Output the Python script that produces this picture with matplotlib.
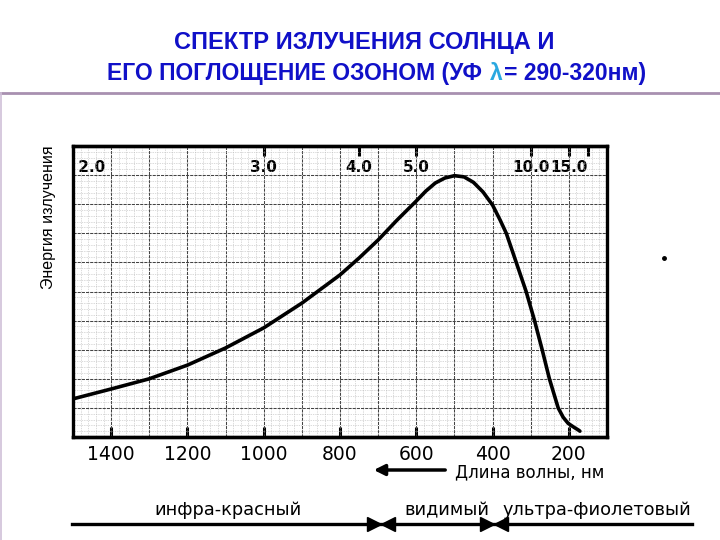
import matplotlib
matplotlib.use("Agg")
import matplotlib.pyplot as plt
from matplotlib.ticker import MultipleLocator

# длина волны, нм и относительная энергия излучения
wavelength = [1500, 1400, 1300, 1200, 1100, 1000, 900, 800, 750, 700, 650,
              600, 575, 550, 525, 500, 475, 450, 425, 400, 380, 364, 338,
              312, 290, 270, 251, 228, 215, 202, 185, 175, 171]
energy = [1.31, 1.65, 2.0, 2.47, 3.06, 3.75, 4.6, 5.57, 6.15, 6.77, 7.46,
          8.11, 8.45, 8.73, 8.9, 8.98, 8.94, 8.75, 8.42, 7.97, 7.45, 7.0, 6.0,
          5.0, 4.0, 3.0, 2.0, 1.0, 0.68, 0.47, 0.32, 0.24, 0.2]

bottom_ticks = [1400, 1200, 1000, 800, 600, 400, 200]
top_ticks = [2, 3, 4, 5, 10, 15, 20]
top_labels = [' 2.0', '3.0', '4.0', '5.0', '10.0', '15.0', '']

blue = '#1010c8'
cyan = '#2aa8e0'

fig = plt.figure(figsize=(7.2, 5.4), dpi=100)

# оверлей в пикселях для заголовка и подписей
ov = fig.add_axes([0, 0, 1, 1])
ov.set_xlim(0, 720)
ov.set_ylim(540, 0)
ov.axis('off')

ax = fig.add_axes([73 / 720, 1 - 437 / 540, 534 / 720, 291 / 540])
ax.plot(wavelength, energy, color='black', lw=2.6, solid_capstyle='round')
ax.set_xlim(1500, 100)
ax.set_ylim(0, 10)

ax.xaxis.set_major_locator(MultipleLocator(100))
ax.xaxis.set_minor_locator(MultipleLocator(20))
ax.yaxis.set_major_locator(MultipleLocator(1))
ax.yaxis.set_minor_locator(MultipleLocator(0.2))
ax.grid(which='major', color='#444444', lw=0.75, ls=(0, (3, 1)))
ax.grid(which='minor', color='#b5b5b5', lw=0.5, ls=(0, (1, 1.5)))
ax.set_axisbelow(True)
ax.tick_params(which='both', left=False, labelleft=False, bottom=False,
               labelbottom=False)
for s in ax.spines.values():
    s.set_linewidth(2.4)

# нижняя шкала (длина волны), метки через 200
bot = ax.secondary_xaxis('bottom')
bot.set_xticks(bottom_ticks)
bot.set_xticklabels([str(t) for t in bottom_ticks])
bot.tick_params(direction='in', length=7, width=2.2, pad=6, labelsize=13.5)
bot.spines['bottom'].set_linewidth(2.4)

# верхняя шкала (частота, 3000/λ)
top = ax.secondary_xaxis('top', functions=(lambda x: 3000 / x, lambda f: 3000 / f))
top.set_xticks(top_ticks)
top.set_xticklabels(top_labels)
top.tick_params(direction='in', length=7, width=2.2, pad=-21, labelsize=11)
for lab in top.get_xticklabels():
    lab.set_fontweight('bold')
top.get_xticklabels()[0].set_ha('left')
top.spines['top'].set_linewidth(2.4)

ax.set_ylabel('Энергия излучения', family='Liberation Sans', fontsize=11.5)
ax.yaxis.set_label_coords(-0.032, 0.755)

# заголовок
tf = dict(family='Liberation Sans', fontweight='bold')
ov.text(364, 42, 'СПЕКТР ИЗЛУЧЕНИЯ СОЛНЦА И', color=blue, ha='center',
        va='center', fontsize=17, **tf)
t1 = ov.text(107, 80, 'ЕГО ПОГЛОЩЕНИЕ ОЗОНОМ (УФ', color=blue, ha='left',
             va='baseline', fontsize=16.5, **tf)
r = fig.canvas.get_renderer()
inv = ov.transData.inverted()
x1 = inv.transform(t1.get_window_extent(r))[1][0] + 8
t2 = ov.text(x1, 80, 'λ', color=cyan, ha='left', va='baseline', fontsize=16.5, **tf)
x2 = inv.transform(t2.get_window_extent(r))[1][0] + 1
ov.text(x2, 80, '= 290-320нм)', color=blue, ha='left', va='baseline',
        fontsize=16.5, **tf)

ov.plot([0, 720], [93, 93], color='#a890b0', lw=2)
ov.plot([1, 1], [93, 540], color='#d0c0d8', lw=1.2)

# стрелка "Длина волны"
ov.annotate('', xy=(371, 470), xytext=(448, 470),
            arrowprops=dict(arrowstyle='-|>', lw=2.5, color='black',
                            mutation_scale=16))
ov.text(455, 472, 'Длина волны, нм', fontsize=12, ha='left', va='center')

# диапазоны спектра
ov.plot([72, 692], [524, 524], color='black', lw=2.4)
for xa in (381, 494):
    ov.plot(xa - 7, 524, marker='>', color='black', ms=10)
    ov.plot(xa + 7, 524, marker='<', color='black', ms=10)
ov.text(228, 510, 'инфра-красный', fontsize=12.8, ha='center', va='center')
ov.text(447, 510, 'видимый', fontsize=12.8, ha='center', va='center')
ov.text(597, 510, 'ультра-фиолетовый', fontsize=12.8, ha='center', va='center')

ov.plot(664, 258, marker='o', color='black', ms=2.5)

fig.savefig('out.png', dpi=100)
